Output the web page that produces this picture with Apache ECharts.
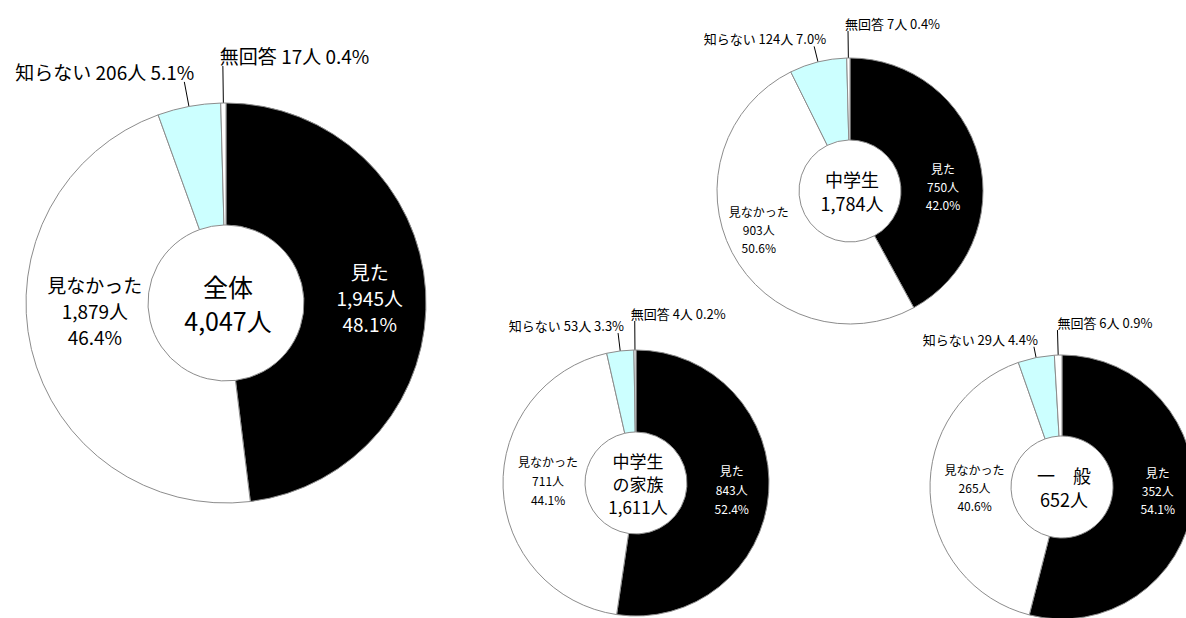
<!DOCTYPE html>
<html>
<head>
<meta charset="utf-8">
<script src="https://cdn.jsdelivr.net/npm/echarts@6/dist/echarts.min.js"></script>
<style>
  html, body { margin: 0; padding: 0; background: #fff; }
  #chart { width: 1186px; height: 618px; }
</style>
</head>
<body>
<div id="chart"></div>
<script>
const categories = ['見た', '見なかった', '知らない', '無回答'];
const groupNames = ['全体', '中学生', '中学生\nの家族', '一　般'];

const countsAll = [1945, 1879, 206, 17];
const pctAll = ['48.1', '46.4', '5.1', '0.4'];
const countsStudent = [750, 903, 124, 7];
const pctStudent = ['42.0', '50.6', '7.0', '0.4'];
const countsFamily = [843, 711, 53, 4];
const pctFamily = ['52.4', '44.1', '3.3', '0.2'];
const countsGeneral = [352, 265, 29, 6];
const pctGeneral = ['54.1', '40.6', '4.4', '0.9'];

const sliceColors = ['#000000', '#ffffff', '#ccffff', '#ffffff'];
const fontFamily = '"Noto Sans CJK JP", sans-serif';

// 各ドーナツの配置（位置・サイズだけ）
const pies = [
  { counts: countsAll, pct: pctAll, center: [226, 303], radius: [78, 200],
    font: 19, lineH: 26, outFont: 19, centerFont: 25, centerLineH: 34,
    lineLen: [25, 37], textShift: [10, -3], nudge: [[2, 3], [7, -25]] },
  { counts: countsStudent, pct: pctStudent, center: [850, 191], radius: [51, 133],
    font: 12, lineH: 18, outFont: 13, centerFont: 18, centerLineH: 24,
    lineLen: [16, 27], textShift: [12, -3], nudge: [[1, 19], [-7, -5]] },
  { counts: countsFamily, pct: pctFamily, center: [636, 483], radius: [51, 133],
    font: 12, lineH: 19, outFont: 13, centerFont: 17, centerLineH: 23,
    lineLen: [18, 29], textShift: [6, -4], nudge: [[1, 0], [7, -6]] },
  { counts: countsGeneral, pct: pctGeneral, center: [1062, 487], radius: [51, 132],
    font: 12, lineH: 18, outFont: 13, centerFont: 18, centerLineH: 24,
    lineLen: [11, 25], textShift: [4, 0], nudge: [[2, -8], [7, -4]] }
];

function fmt(n) {
  return n.toLocaleString('en-US');
}

const series = pies.map((p) => ({
  type: 'pie',
  center: p.center,
  radius: p.radius,
  startAngle: 90,
  clockwise: true,
  avoidLabelOverlap: false,
  silent: true,
  animation: false,
  itemStyle: { borderColor: '#8c8c8c', borderWidth: 1 },
  data: categories.map((name, i) => ({
    name: name,
    value: p.counts[i],
    itemStyle: { color: sliceColors[i] },
    label: i < 2 ? {
      position: 'inside',
      color: i === 0 ? '#ffffff' : '#000000',
      fontSize: p.font,
      lineHeight: p.lineH,
      formatter: () => name + '\n' + fmt(p.counts[i]) + '人\n' + p.pct[i] + '%'
    } : {
      position: 'outside',
      color: '#000000',
      fontSize: p.outFont,
      formatter: () => name + ' ' + fmt(p.counts[i]) + '人 ' + p.pct[i] + '%'
    },
    labelLine: i < 2 ? { show: false } : {
      show: true,
      length: p.lineLen[i - 2],
      length2: 0,
      lineStyle: { color: '#000000', width: 1 }
    }
  })),
  labelLayout: (params) => {
    const i = params.dataIndex;
    if (i < 2) {
      return { dx: p.nudge[i][0], dy: p.nudge[i][1] };
    }
    const pts = params.labelLinePoints;
    if (!pts) return;
    const end = pts[pts.length - 1];
    return {
      x: end[0] + p.textShift[i - 2],
      y: end[1] - 1,
      align: i === 2 ? 'right' : 'left',
      verticalAlign: 'bottom',
      labelLinePoints: pts
    };
  }
}));

// 中央の合計
const graphic = pies.map((p, k) => ({
  type: 'text',
  x: p.center[0] + 2,
  y: p.center[1],
  silent: true,
  style: {
    text: groupNames[k] + '\n' + fmt(p.counts.reduce((a, b) => a + b, 0)) + '人',
    fill: '#000000',
    fontSize: p.centerFont,
    fontFamily: fontFamily,
    lineHeight: p.centerLineH,
    align: 'center',
    verticalAlign: 'middle',
    textAlign: 'center',
    textVerticalAlign: 'middle'
  }
}));

const chart = echarts.init(document.getElementById('chart'), null, { renderer: 'svg' });
chart.setOption({
  backgroundColor: '#ffffff',
  animation: false,
  textStyle: { fontFamily: fontFamily },
  series: series,
  graphic: graphic
});
</script>
</body>
</html>
